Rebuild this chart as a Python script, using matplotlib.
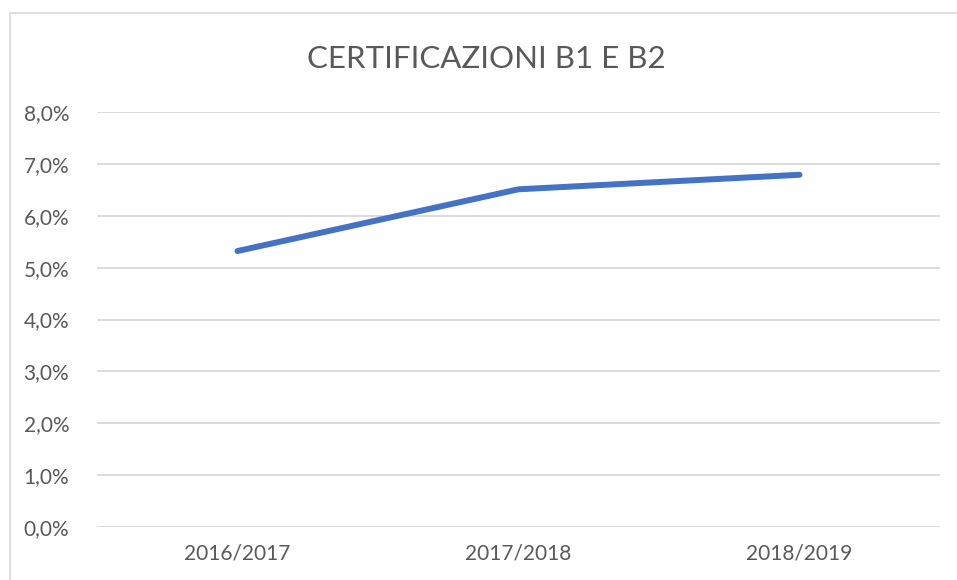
import matplotlib.pyplot as plt
from matplotlib.patches import Rectangle
from matplotlib.ticker import FuncFormatter

plt.rcParams['font.family'] = ['Lato', 'DejaVu Sans']

anni = ['2016/2017', '2017/2018', '2018/2019']
percentuali = [5.32, 6.51, 6.79]
tick_y = [0, 1, 2, 3, 4, 5, 6, 7, 8]

fig = plt.figure(figsize=(9.57, 5.8), dpi=100)
ax = fig.add_axes([97 / 957, 1 - 527 / 580, 843 / 957, 415 / 580])

# bordo del grafico (tagliato a destra e in basso)
fig.patches.append(Rectangle((10 / 957, -0.1), 1.2, 1.1 - 13 / 580, transform=fig.transFigure,
                             fill=False, edgecolor='#D9D9D9', linewidth=1.2))

x = list(range(len(anni)))
ax.plot(x, percentuali, color='#4472C4', linewidth=4.3, solid_capstyle='round', zorder=3)

ax.set_xlim(-0.5, 2.5)
ax.set_ylim(0, 8)
ax.set_yticks(tick_y)
ax.yaxis.set_major_formatter(FuncFormatter(lambda v, p: f'{v:.1f}%'.replace('.', ',')))
ax.set_xticks(x)
ax.set_xticklabels(anni)

ax.grid(axis='y', color='#D9D9D9', linewidth=1.3)
ax.set_axisbelow(True)
for s in ax.spines.values():
    s.set_visible(False)
ax.tick_params(length=0, labelsize=15, labelcolor='#595959')
ax.tick_params(axis='y', pad=20)
ax.tick_params(axis='x', pad=12)

fig.text(486 / 957, 1 - 59 / 580, 'CERTIFICAZIONI B1 E B2', ha='center', va='center',
         fontsize=22.5, color='#595959')

fig.savefig('out.png', dpi=100)
